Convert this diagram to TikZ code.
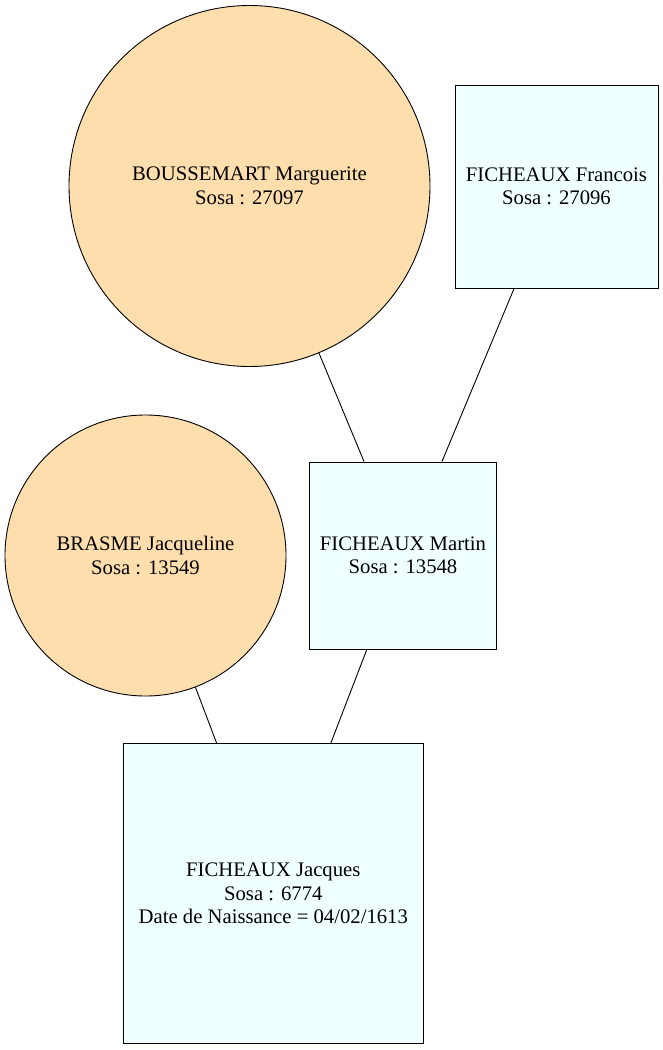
\documentclass[tikz,border=0pt]{standalone}
\usepackage{fontspec}
\setmainfont{Liberation Serif}
\definecolor{fem}{HTML}{FFDEAD}
\definecolor{mal}{HTML}{F0FFFF}
\tikzset{
  x=1pt, y=-1pt,
  person/.style={draw=black, line width=0.9pt, align=center, inner sep=0pt,
    font=\fontsize{20.7}{23.5}\selectfont},
  female/.style={person, circle, fill=fem},
  male/.style={person, rectangle, fill=mal},
  link/.style={draw=black, line width=0.9pt}
}
\begin{document}
\begin{tikzpicture}
\useasboundingbox (0,0) rectangle (663,1050);
\node[female, minimum size=361pt] (marguerite) at (249.5,186) {BOUSSEMART Marguerite\\Sosa : 27097};
\node[male, minimum width=203pt, minimum height=203pt] (francois) at (556.5,186.5) {FICHEAUX Francois\\Sosa : 27096};
\node[female, minimum size=281pt] (jacqueline) at (145.5,555.5) {BRASME Jacqueline\\Sosa : 13549};
\node[male, minimum width=187pt, minimum height=187pt] (martin) at (403,555.5) {FICHEAUX Martin\\Sosa : 13548};
\node[male, minimum width=300pt, minimum height=300pt] (jacques) at (273.3,893.7) {FICHEAUX Jacques\\Sosa : 6774\\Date de Naissance = 04/02/1613};
\draw[link] (marguerite) -- (martin);
\draw[link] (francois) -- (martin);
\draw[link] (jacqueline) -- (jacques);
\draw[link] (martin) -- (jacques);
\end{tikzpicture}
\end{document}
